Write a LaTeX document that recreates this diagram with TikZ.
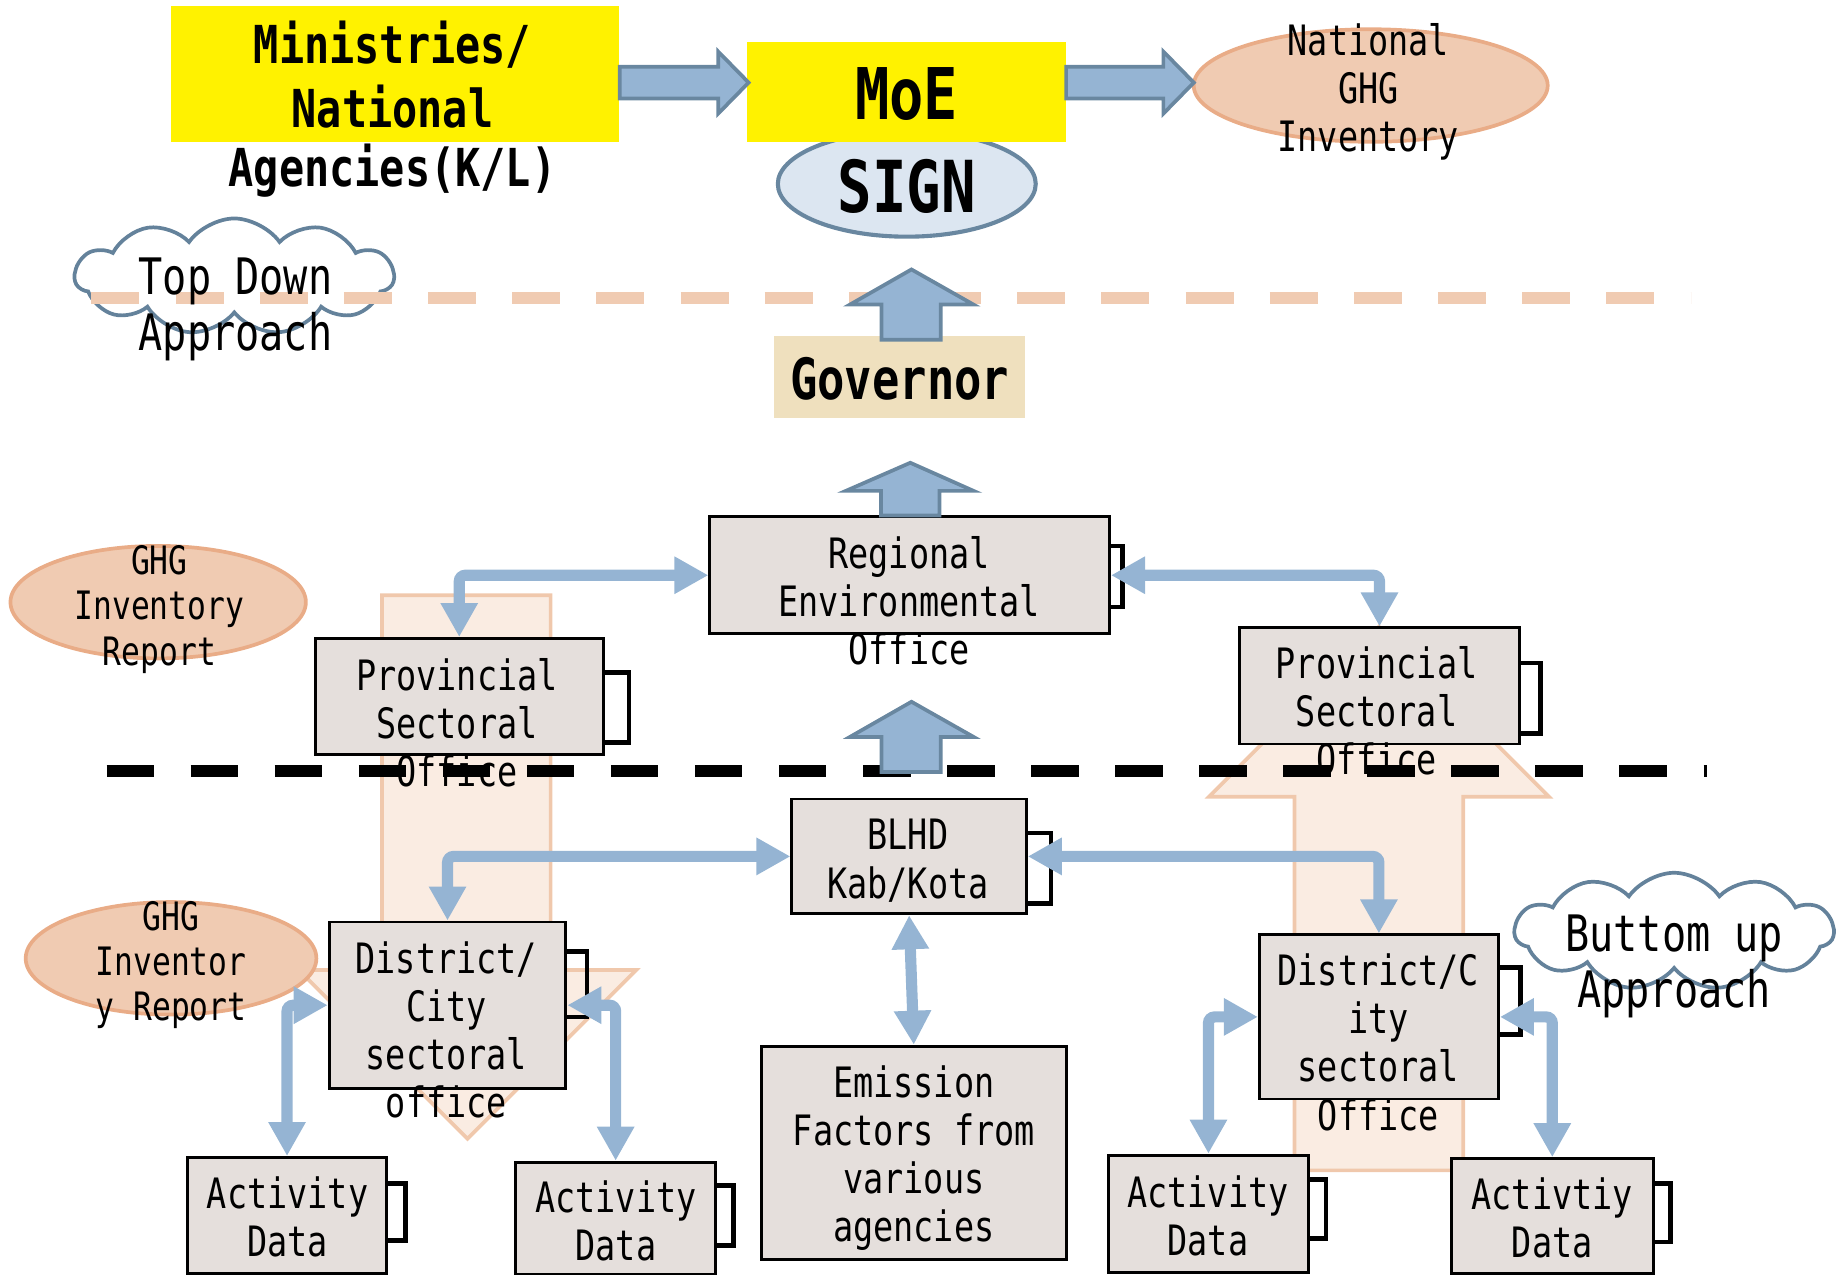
\documentclass[tikz,border=0pt]{standalone}
\usepackage{fontspec}
\usetikzlibrary{arrows.meta,shapes.geometric,shapes.symbols}
\newfontfamily\gf[FakeStretch=0.80]{DejaVu Sans Mono}
\newcommand\gfs[2]{\gf\fontsize{#1}{#2}\selectfont}
\definecolor{boxfill}{RGB}{229,223,220}
\definecolor{arrfill}{RGB}{149,180,211}
\definecolor{arrline}{RGB}{105,135,160}
\definecolor{peach}{RGB}{240,203,178}
\definecolor{peachline}{RGB}{233,172,135}
\definecolor{lightpeach}{RGB}{250,236,226}
\definecolor{peachedge}{RGB}{240,200,172}
\definecolor{signfill}{RGB}{220,230,241}
\definecolor{govfill}{RGB}{239,224,190}
\definecolor{cloudline}{RGB}{100,130,155}
\begin{document}
\begin{tikzpicture}[x=0.01cm,y=-0.01cm,
  gbox/.style={draw=black,line width=0.7pt,fill=boxfill,inner sep=0pt},
  brk/.style={draw=black,line width=1.1pt},
  blockarr/.style={fill=arrfill,draw=arrline,line width=0.9pt,line join=miter},
  peacharr/.style={fill=lightpeach,draw=peachedge,line width=0.9pt},
  conn/.style={draw=arrfill,line width=0.095cm,rounded corners=1.5pt,
    arrows={Triangle[length=0.29cm,width=0.30cm]-Triangle[length=0.29cm,width=0.30cm]}},
  ntxt/.style={align=center,inner sep=0pt,font=\gfs{10.16}{11.67}},
  ghge/.style={ellipse,fill=peach,draw=peachline,line width=0.9pt,inner sep=0pt},
  cloudy/.style={cloud,cloud puffs=11,cloud puff arc=110,cloud ignores aspect,
    draw=cloudline,line width=0.9pt,fill=white,inner sep=0pt}
]
\useasboundingbox (0,0) rectangle (1568,1088);

% background peach block arrows
\path[peacharr] (326,508) -- (470,508) -- (470,828) -- (543,828) -- (399,972) -- (255,828) -- (326,828) -- cycle;
\path[peacharr] (1105,999) -- (1249,999) -- (1249,680) -- (1322,680) -- (1177,535) -- (1032,680) -- (1105,680) -- cycle;

% clouds
\node[cloudy,minimum width=2.72cm,minimum height=0.99cm] (tdcloud) at (200,236) {};
\node[cloudy,minimum width=2.72cm,minimum height=1.0cm] (bucloud) at (1429,795) {};

% dashed separators
\draw[peach,line width=0.1cm,dash pattern=on 0.41cm off 0.308cm] (78,254.5) -- (1443,254.5);
\draw[black,line width=0.1cm,dash pattern=on 0.405cm off 0.312cm] (91,658) -- (1457,658);

% top level
\node[fill=yellow,inner sep=0pt,minimum width=3.82cm,minimum height=1.16cm] (min) at (337,63) {};
\node[ellipse,fill=signfill,draw=arrline,line width=1pt,inner sep=0pt,minimum width=2.2cm,minimum height=0.9cm] (sign) at (774,157) {};
\node[fill=yellow,inner sep=0pt,minimum width=2.72cm,minimum height=0.85cm] (moe) at (774,78.5) {};
\node[ghge,minimum width=3.02cm,minimum height=0.96cm] (nat) at (1170,73) {};
\node[fill=govfill,inner sep=0pt,minimum width=2.14cm,minimum height=0.70cm] (gov) at (768,322) {};

% report ellipses
\node[ghge,minimum width=2.52cm,minimum height=0.96cm] (ghg1) at (135,514) {};
\node[ghge,minimum width=2.48cm,minimum height=0.96cm] (ghg2) at (146,818) {};

% grey boxes
\node[gbox,minimum width=3.41cm,minimum height=1.00cm] (reg) at (776.5,491) {};
\node[gbox,minimum width=2.46cm,minimum height=0.99cm] (provL) at (392,594.5) {};
\node[gbox,minimum width=2.39cm,minimum height=0.99cm] (provR) at (1177.5,585.5) {};
\node[gbox,minimum width=2.00cm,minimum height=0.98cm] (blhd) at (776,731) {};
\node[gbox,minimum width=2.02cm,minimum height=1.42cm] (distL) at (382,858) {};
\node[gbox,minimum width=2.04cm,minimum height=1.40cm] (distR) at (1177,868) {};
\node[gbox,minimum width=2.60cm,minimum height=1.82cm] (emis) at (780,984) {};
\node[gbox,minimum width=1.70cm,minimum height=0.99cm] (ad1) at (245,1037.5) {};
\node[gbox,minimum width=1.71cm,minimum height=0.96cm] (ad2) at (525.5,1040) {};
\node[gbox,minimum width=1.71cm,minimum height=1.00cm] (ad3) at (1031.5,1036) {};
\node[gbox,minimum width=1.72cm,minimum height=0.98cm] (ad4) at (1325,1038) {};

% brackets
\draw[brk] (947,466) -- (958,466) -- (958,518) -- (947,518);
\draw[brk] (515,574) -- (537,574) -- (537,634) -- (515,634);
\draw[brk] (1297,566) -- (1315,566) -- (1315,626) -- (1297,626);
\draw[brk] (876,711) -- (897,711) -- (897,771) -- (876,771);
\draw[brk] (483,812) -- (501,812) -- (501,868) -- (483,868);
\draw[brk] (1279,826) -- (1298,826) -- (1298,883) -- (1279,883);
\draw[brk] (330,1010) -- (346,1010) -- (346,1059) -- (330,1059);
\draw[brk] (611,1012) -- (626,1012) -- (626,1063) -- (611,1063);
\draw[brk] (1117,1007) -- (1132,1007) -- (1132,1057) -- (1117,1057);
\draw[brk] (1411,1010) -- (1426,1010) -- (1426,1060) -- (1411,1060);

% blue block arrows
\path[blockarr] (529,57) -- (613,57) -- (613,44) -- (639,70.5) -- (613,97) -- (613,84) -- (529,84) -- cycle;
\path[blockarr] (910,57) -- (993,57) -- (993,44) -- (1019,70.5) -- (993,97) -- (993,84) -- (910,84) -- cycle;
\path[blockarr] (752.5,290) -- (752.5,260) -- (725.5,260) -- (778,230) -- (831,260) -- (803,260) -- (803,290) -- cycle;
\path[blockarr] (752,440) -- (752,419) -- (722,419) -- (777,395) -- (831,419) -- (802,419) -- (802,440) -- cycle;
\path[blockarr] (752.5,659) -- (752.5,629) -- (725.5,629) -- (778,599) -- (831,629) -- (803,629) -- (803,659) -- cycle;

% texts
\node[align=center,inner sep=0pt,font=\gfs{12.7}{14.2}\bfseries] (tmin) at (335,96) {\strut Ministries/\\National\\Agencies(K/L)\strut};
\node[inner sep=0pt,font=\gfs{17.3}{20.8}\bfseries] (tmoe) at (774,87.5) {\strut MoE};
\node[inner sep=0pt,font=\gfs{17.4}{20.9}\bfseries] (tsign) at (774,166.6) {\strut SIGN};
\node[inner sep=0pt,font=\gfs{13.8}{16.6}\bfseries] (tgov) at (768,329.5) {\strut Governor};
\node[ntxt] (tnat) at (1168,79.8) {\strut National\\GHG\\Inventory\strut};
\node[align=center,inner sep=0pt,font=\gfs{9.5}{10.95}] (tghg1) at (136,521.5) {\strut GHG\\Inventory\\Report\strut};
\node[align=center,inner sep=0pt,font=\gfs{9.5}{10.95}] (tghg2) at (146,825) {\strut GHG\\Inventor\\y Report\strut};
\node[align=center,inner sep=0pt,font=\gfs{12.2}{13.74}] (ttd) at (201,265.7) {\strut Top Down\\Approach\strut};
\node[align=center,inner sep=0pt,font=\gfs{12.2}{13.74}] (tbu) at (1429,826.5) {\strut Buttom up\\Approach\strut};
\node[ntxt] (treg) at (776,517.8) {\strut Regional\\Environmental\\Office\strut};
\node[ntxt] (tprovL) at (390,621.8) {\strut Provincial\\Sectoral\\Office\strut};
\node[ntxt] (tprovR) at (1175,611.8) {\strut Provincial\\Sectoral\\Office\strut};
\node[ntxt] (tblhd) at (775,737.8) {\strut BLHD\\Kab/Kota\strut};
\node[ntxt] (tdistL) at (381,884) {\strut District/\\City\\sectoral\\office\strut};
\node[ntxt] (tdistR) at (1176.5,894.8) {\strut District/C\\ity\\sectoral\\Office\strut};
\node[ntxt] (temis) at (780,990.3) {\strut Emission\\Factors from\\various\\agencies\strut};
\node[ntxt] (tad1) at (245.5,1043.8) {\strut Activity\\Data\strut};
\node[ntxt] (tad2) at (525.7,1047.3) {\strut Activity\\Data\strut};
\node[ntxt] (tad3) at (1031,1042.6) {\strut Activity\\Data\strut};
\node[ntxt] (tad4) at (1325,1044.8) {\strut Activtiy\\Data\strut};

% connectors
\draw[conn] (reg.west) -| (provL.north);
\draw[conn] (reg.east) -| (provR.north);
\draw[conn] (blhd.west) -| (distL.north);
\draw[conn] (blhd.east) -| (distR.north);
\draw[conn] (blhd.south) -- (emis.north);
\draw[conn] (distL.west) -| (ad1.north);
\draw[conn] (distL.east) -| (ad2.north);
\draw[conn] (distR.west) -| (ad3.north);
\draw[conn] (distR.east) -| (ad4.north);
\end{tikzpicture}
\end{document}
